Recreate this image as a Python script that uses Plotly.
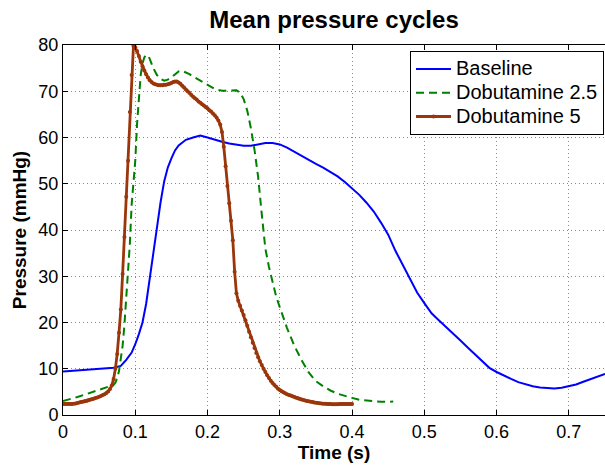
import plotly.graph_objects as go

# ---------------- data ----------------
base_t = [0, 0.02, 0.04, 0.06, 0.07, 0.08, 0.0875, 0.095, 0.1, 0.105, 0.11, 0.115, 0.12, 0.125,
          0.13, 0.135, 0.14, 0.145, 0.15, 0.155, 0.16, 0.165, 0.17, 0.18, 0.19, 0.2, 0.21, 0.22,
          0.23, 0.24, 0.25, 0.26, 0.27, 0.28, 0.29, 0.3, 0.31, 0.32, 0.33, 0.34, 0.35, 0.36, 0.37,
          0.38, 0.39, 0.4, 0.41, 0.42, 0.43, 0.44, 0.45, 0.46, 0.47, 0.48, 0.49, 0.5, 0.51, 0.52,
          0.53, 0.54, 0.55, 0.56, 0.57, 0.58, 0.59, 0.6, 0.61, 0.62, 0.63, 0.64, 0.65, 0.66, 0.67,
          0.68, 0.69, 0.7, 0.71, 0.72, 0.73, 0.74, 0.75]
base_p = [9.4, 9.6, 9.8, 10.0, 10.2, 10.6, 11.9, 13.5, 15.3, 17.5, 20.0, 24.0, 29.6, 35.0,
          40.5, 46.0, 50.5, 53.5, 55.5, 57.2, 58.3, 59.0, 59.5, 60.0, 60.4, 60.0, 59.5, 59.1,
          58.7, 58.4, 58.2, 58.2, 58.5, 58.8, 58.8, 58.5, 57.8, 56.9, 56.0, 55.1, 54.3, 53.5, 52.6,
          51.6, 50.4, 49.1, 47.6, 45.9, 44.0, 41.6, 39.0, 35.5, 32.6, 29.4, 26.5, 24.2, 22.0, 20.5,
          19.1, 17.6, 16.1, 14.6, 13.1, 11.6, 10.2, 9.3, 8.5, 7.8, 7.1, 6.6, 6.2, 5.95, 5.8,
          5.75, 5.9, 6.2, 6.6, 7.2, 7.8, 8.4, 8.9]

dob25_t = [0, 0.01, 0.02, 0.03, 0.04, 0.05, 0.06, 0.065, 0.07, 0.0725, 0.075, 0.0775, 0.08, 0.0825,
           0.085, 0.0875, 0.09, 0.0925, 0.095, 0.0975, 0.1, 0.1025, 0.105, 0.1075, 0.11, 0.1125,
           0.115, 0.1175, 0.12, 0.1225, 0.125, 0.13, 0.135, 0.14, 0.145, 0.15, 0.155, 0.16, 0.165,
           0.17, 0.175, 0.18, 0.19, 0.2, 0.21, 0.22, 0.23, 0.235, 0.24, 0.245, 0.25, 0.255, 0.26,
           0.265, 0.27, 0.275, 0.28, 0.285, 0.29, 0.295, 0.3, 0.31, 0.32, 0.33, 0.34, 0.35, 0.36,
           0.37, 0.38, 0.39, 0.4, 0.41, 0.42, 0.43, 0.44, 0.45, 0.457]
dob25_p = [3.0, 3.4, 3.9, 4.4, 4.9, 5.4, 5.9, 6.2, 6.5, 7.0, 8.0, 9.5, 11.8, 15.0,
           19.5, 25.0, 31.0, 37.0, 45.5, 50.0, 55.0, 63.0, 69.5, 73.5, 76.0, 77.3,
           77.8, 77.8, 77.0, 76.0, 75.0, 73.5, 72.7, 72.3, 72.5, 73.0, 73.6, 74.3, 74.4,
           74.1, 73.7, 73.2, 72.3, 71.3, 70.5, 70.1, 70.2, 70.3, 70.2, 69.7, 68.3, 65.8, 62.0,
           57.3, 51.5, 43.5, 36.0, 32.0, 28.8, 25.6, 23.3, 18.8, 15.0, 11.9, 9.2, 7.3, 6.2,
           5.3, 4.6, 4.1, 3.7, 3.3, 3.1, 2.95, 2.85, 2.85, 2.9]

dob5_dt = 0.0025
dob5_p = [2.4, 2.4, 2.4, 2.4, 2.4, 2.4, 2.45, 2.5, 2.6, 2.7,
          2.8, 2.85, 2.95, 3.05, 3.2, 3.3, 3.4, 3.5, 3.65, 3.8,
          3.95, 4.1, 4.3, 4.5, 4.75, 5.1, 5.6, 6.4, 7.8, 10.0,
          13.2, 17.8, 22.8, 30.5, 38.5, 47.2, 55.0, 65.5, 73.5, 79.8,
          79.5, 78.7, 77.6, 76.4, 75.4, 74.5, 73.7, 73.0, 72.4, 72.0,
          71.7, 71.5, 71.4, 71.3, 71.3, 71.3, 71.4, 71.4, 71.5, 71.6,
          71.8, 72.0, 72.1, 72.1, 71.9, 71.6, 71.2, 70.8, 70.4, 70.0,
          69.6, 69.2, 68.8, 68.5, 68.2, 67.8, 67.5, 67.2, 66.9, 66.6,
          66.3, 65.9, 65.6, 65.2, 64.8, 64.3, 63.7, 62.8, 61.2, 58.0,
          53.8, 49.5, 45.8, 42.0, 37.8, 31.0, 26.3, 24.7, 23.6, 22.6,
          21.6, 20.5, 19.3, 18.0, 16.8, 15.6, 14.5, 13.4, 12.5, 11.6,
          10.8, 10.0, 9.3, 8.6, 8.0, 7.4, 6.9, 6.5, 6.1, 5.7,
          5.4, 5.15, 4.9, 4.7, 4.5, 4.35, 4.2, 4.05, 3.9, 3.75,
          3.6, 3.45, 3.35, 3.25, 3.15, 3.05, 2.95, 2.85, 2.8, 2.7,
          2.65, 2.6, 2.55, 2.5, 2.45, 2.42, 2.4, 2.38, 2.36, 2.35,
          2.35, 2.35, 2.35, 2.36, 2.37, 2.38, 2.4, 2.4, 2.4, 2.4,
          2.4]
dob5_t = [round(i * dob5_dt, 4) for i in range(len(dob5_p))]

series_names = ["Baseline", "Dobutamine 2.5", "Dobutamine 5"]
x_ticks = [0, 0.1, 0.2, 0.3, 0.4, 0.5, 0.6, 0.7]
y_ticks = [0, 10, 20, 30, 40, 50, 60, 70, 80]

# ---------------- figure ----------------
FONT = "Liberation Sans, Arial, Helvetica, sans-serif"
BROWN = "#9A360A"


def legend_label(s):
    # render at 20px while legend rows are spaced like the reference
    return f"<span style='font-size:20px'>{s}</span>"


fig = go.Figure()
fig.add_trace(go.Scatter(x=base_t, y=base_p, mode="lines", name=legend_label(series_names[0]),
                         line=dict(color="#0000FF", width=2)))
fig.add_trace(go.Scatter(x=dob25_t, y=dob25_p, mode="lines", name=legend_label(series_names[1]),
                         line=dict(color="#008000", width=2, dash="8px,5px")))
fig.add_trace(go.Scatter(x=dob5_t, y=dob5_p, mode="lines+markers", name=legend_label(series_names[2]),
                         line=dict(color=BROWN, width=2.8),
                         marker=dict(color=BROWN, size=4, symbol="circle")))

axis_common = dict(
    showline=True, linecolor="black", linewidth=1,
    ticks="inside", ticklen=5, tickcolor="black", tickwidth=1,
    showgrid=True, gridcolor="#8a8a8a", gridwidth=1, griddash="1px,3px",
    zeroline=False,
    tickfont=dict(family=FONT, size=18, color="black"),
)

fig.update_xaxes(range=[0, 0.75], tickvals=x_ticks, ticktext=[f"{v:g}" for v in x_ticks],
                 mirror="ticks",
                 title=dict(text="<b>Time (s)</b>", font=dict(family=FONT, size=19, color="black"),
                            standoff=2),
                 **axis_common)
fig.update_yaxes(range=[0, 80], tickvals=y_ticks, ticktext=[str(v) for v in y_ticks],
                 mirror=False,
                 title=dict(text="<b>Pressure (mmHg)</b>", font=dict(family=FONT, size=19, color="black"),
                            standoff=6),
                 **axis_common)

fig.update_layout(
    width=605, height=465,
    margin=dict(l=63, r=0, t=45, b=50, autoexpand=False),
    paper_bgcolor="white", plot_bgcolor="white",
    title=dict(text="<b>Mean pressure cycles</b>", x=(63 + 605) / 2 / 605, xanchor="center",
               y=1 - 20 / 465, yanchor="middle",
               font=dict(family=FONT, size=24, color="black")),
    legend=dict(x=(410 - 63) / 542, xanchor="left", y=1 - (51 - 45) / 370, yanchor="top",
                bgcolor="white", bordercolor="black", borderwidth=1,
                font=dict(family=FONT, size=16, color="black"),
                tracegroupgap=0, itemwidth=35),
    showlegend=True,
)

fig.write_html("out.html", config={"displayModeBar": False},
               post_script="document.body.style.margin='0';document.body.style.padding='0';")
